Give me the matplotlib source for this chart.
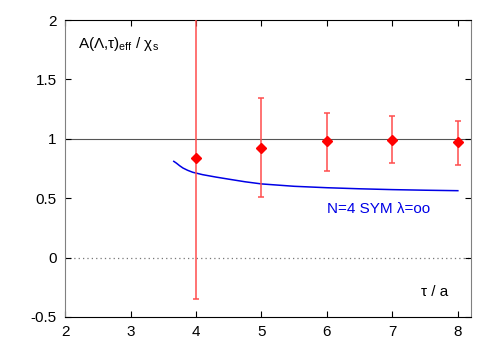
import matplotlib
matplotlib.use("Agg")
import matplotlib.pyplot as plt

plt.rcParams["font.family"] = ["Liberation Sans", "DejaVu Sans"]
plt.rcParams["mathtext.fontset"] = "custom"
plt.rcParams["mathtext.rm"] = "Liberation Sans"

# lattice data: tau/a, ratio, error bar ends
tau = [4, 5, 6, 7, 8]
ratio = [0.84, 0.92, 0.98, 0.99, 0.97]
err_lo = [-0.35, 0.51, 0.73, 0.80, 0.78]
err_hi = [2.05, 1.34, 1.22, 1.19, 1.15]

# N=4 SYM strong coupling curve
sym_tau = [3.66, 3.70, 3.75, 3.80, 3.87, 3.95, 4.1, 4.3, 4.5, 4.75, 5.0, 5.5, 6.0, 6.5, 7.0, 7.5, 8.0]
sym_val = [0.81, 0.795, 0.773, 0.754, 0.735, 0.718, 0.698, 0.678, 0.66, 0.638, 0.62, 0.60, 0.588, 0.579, 0.572, 0.567, 0.563]

fig = plt.figure(figsize=(5.01, 3.51), dpi=100)
ax = fig.add_axes([0.13, 0.097, 0.81, 0.846])

ax.axhline(1.0, color="#555555", lw=0.8, zorder=1)
ax.axhline(0.0, color="#777777", lw=0.9, ls=(0, (1, 2.5)), zorder=1)

yerr = [[r - lo for r, lo in zip(ratio, err_lo)],
        [hi - r for r, hi in zip(ratio, err_hi)]]
ax.errorbar(tau, ratio, yerr=yerr, fmt="D", color="red", ecolor="#ff4d4d",
            markersize=5, elinewidth=1.1, capsize=2.5, capthick=1.1, zorder=3)

ax.plot(sym_tau, sym_val, color="#0000e6", lw=1.1, zorder=2)
ax.text(6.00, 0.41, "N=4 SYM λ=oo", color="#0000e6", fontsize=11, va="center")

ax.text(2.2, 1.8, r"A(Λ,τ)$_{\rm eff}$ / χ$_{\rm s}$", fontsize=11, va="center")
ax.text(7.85, -0.29, "τ / a", fontsize=11, ha="right", va="center")

ax.set_xlim(2, 8.2)
ax.set_ylim(-0.5, 2)
ax.set_xticks([2, 3, 4, 5, 6, 7, 8])
ax.set_yticks([-0.5, 0, 0.5, 1, 1.5, 2])
ax.set_yticklabels(["-0.5", "0", "0.5", "1", "1.5", "2"])
ax.tick_params(direction="in", top=True, right=True, length=4,
               labelsize=11, pad=6)
for s in ("left", "right"):
    ax.spines[s].set_color("#808080")

fig.savefig("out.png", dpi=100)
